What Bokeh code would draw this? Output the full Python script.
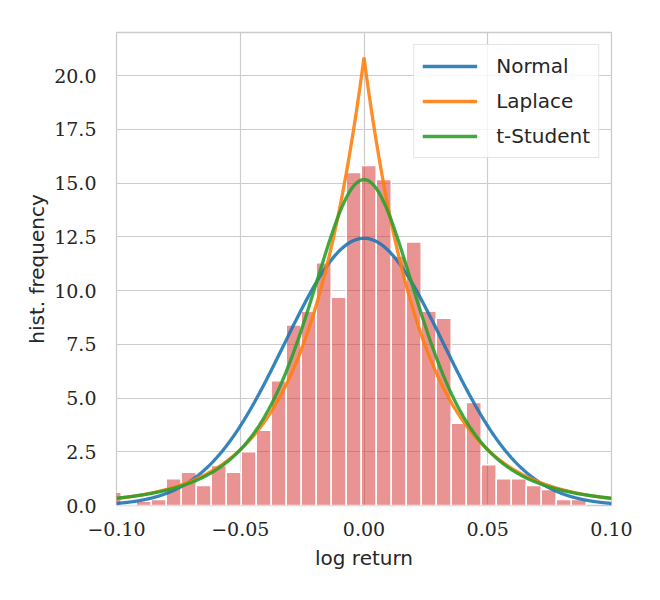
import math
import numpy as np
from bokeh.plotting import figure
from bokeh.models import ColumnDataSource, FixedTicker, CustomJSTickFormatter
from bokeh.embed import file_html
from bokeh.resources import INLINE

# Histogram of daily log returns (density-normalised)
bin_start = -0.10416
bin_width = 0.006061
hist_density = [0.62, 0.0, 0.20, 0.28, 1.24, 1.55, 0.93, 1.86, 1.55, 2.50,
                3.50, 5.80, 8.39, 9.04, 11.29, 9.69, 15.49, 15.81, 15.16, 11.60,
                12.26, 9.04, 8.71, 3.83, 4.79, 1.89, 1.24, 1.24, 0.93, 0.74,
                0.28, 0.28]

# Fitted distribution parameters
normal_loc, normal_scale = 0.0, 0.0321
laplace_loc, laplace_scale = 0.0, 0.0240
t_df, t_loc, t_scale = 3.0, 0.0, 0.02425

x_ticks = [-0.10, -0.05, 0.0, 0.05, 0.10]
y_ticks = [0.0, 2.5, 5.0, 7.5, 10.0, 12.5, 15.0, 17.5, 20.0]
series_names = ["Normal", "Laplace", "t-Student"]
series_colors = ["#1f77b4", "#ff7f0e", "#2ca02c"]

edges = bin_start + bin_width * np.arange(len(hist_density) + 1)
bars = ColumnDataSource(dict(left=edges[:-1], right=edges[1:],
                             top=hist_density, bottom=[0] * len(hist_density)))

xs = np.linspace(-0.1, 0.1, 1001)


def normal_pdf(x, loc, scale):
    z = (x - loc) / scale
    return np.exp(-0.5 * z * z) / (scale * math.sqrt(2 * math.pi))


def laplace_pdf(x, loc, scale):
    return np.exp(-np.abs(x - loc) / scale) / (2 * scale)


def t_pdf(x, df, loc, scale):
    z = (x - loc) / scale
    c = math.gamma((df + 1) / 2) / (math.sqrt(df * math.pi) * math.gamma(df / 2))
    return c * (1 + z * z / df) ** (-(df + 1) / 2) / scale


curves = [normal_pdf(xs, normal_loc, normal_scale),
          laplace_pdf(xs, laplace_loc, laplace_scale),
          t_pdf(xs, t_df, t_loc, t_scale)]

p = figure(width=660, height=600, x_range=(-0.1, 0.1), y_range=(0, 22),
           output_backend="svg", toolbar_location=None,
           min_border_left=116, min_border_right=49,
           min_border_top=32, min_border_bottom=95)
p.background_fill_color = "white"
p.border_fill_color = "white"
p.outline_line_color = "#cccccc"
p.outline_line_width = 1.3

p.quad(left="left", right="right", top="top", bottom="bottom", source=bars,
       fill_color="#d62728", fill_alpha=0.5, line_color="white", line_width=1.5)

for name, color, ys in zip(series_names, series_colors, curves):
    p.line(xs, ys, line_color=color, line_alpha=0.9, line_width=3.3,
           legend_label=name)

for grid in (p.xgrid, p.ygrid):
    grid.grid_line_color = "#cccccc"
    grid.grid_line_width = 1.2

p.xaxis.ticker = FixedTicker(ticks=x_ticks)
p.yaxis.ticker = FixedTicker(ticks=y_ticks)
p.xaxis.formatter = CustomJSTickFormatter(
    code="return (tick < 0 ? '\u2212' : '') + Math.abs(tick).toFixed(2);")
p.yaxis.formatter = CustomJSTickFormatter(code="return tick.toFixed(1);")

for ax in (p.xaxis, p.yaxis):
    ax.axis_line_color = None
    ax.major_tick_line_color = None
    ax.minor_tick_line_color = None
    ax.major_label_text_font = "DejaVu Serif"
    ax.major_label_text_font_size = "19px"
    ax.major_label_text_color = "#262626"
    ax.axis_label_text_font = "DejaVu Sans"
    ax.axis_label_text_font_size = "20px"
    ax.axis_label_text_font_style = "normal"
    ax.axis_label_text_color = "#262626"

p.xaxis.axis_label = "log return"
p.yaxis.axis_label = "hist. frequency"
p.xaxis.major_label_standoff = 10
p.yaxis.major_label_standoff = 14
p.xaxis.axis_label_standoff = 7
p.yaxis.axis_label_standoff = 2

lg = p.legend[0]
lg.location = "top_right"
lg.margin = 12
lg.padding = 8
lg.spacing = 9
lg.glyph_width = 55
lg.glyph_height = 26
lg.label_height = 26
lg.label_standoff = 19
lg.label_text_font = "DejaVu Sans"
lg.label_text_font_size = "20px"
lg.label_text_color = "#262626"
lg.border_line_color = "#cccccc"
lg.border_line_width = 1
lg.background_fill_alpha = 0.8

open("out.html", "w").write(file_html(p, INLINE))
